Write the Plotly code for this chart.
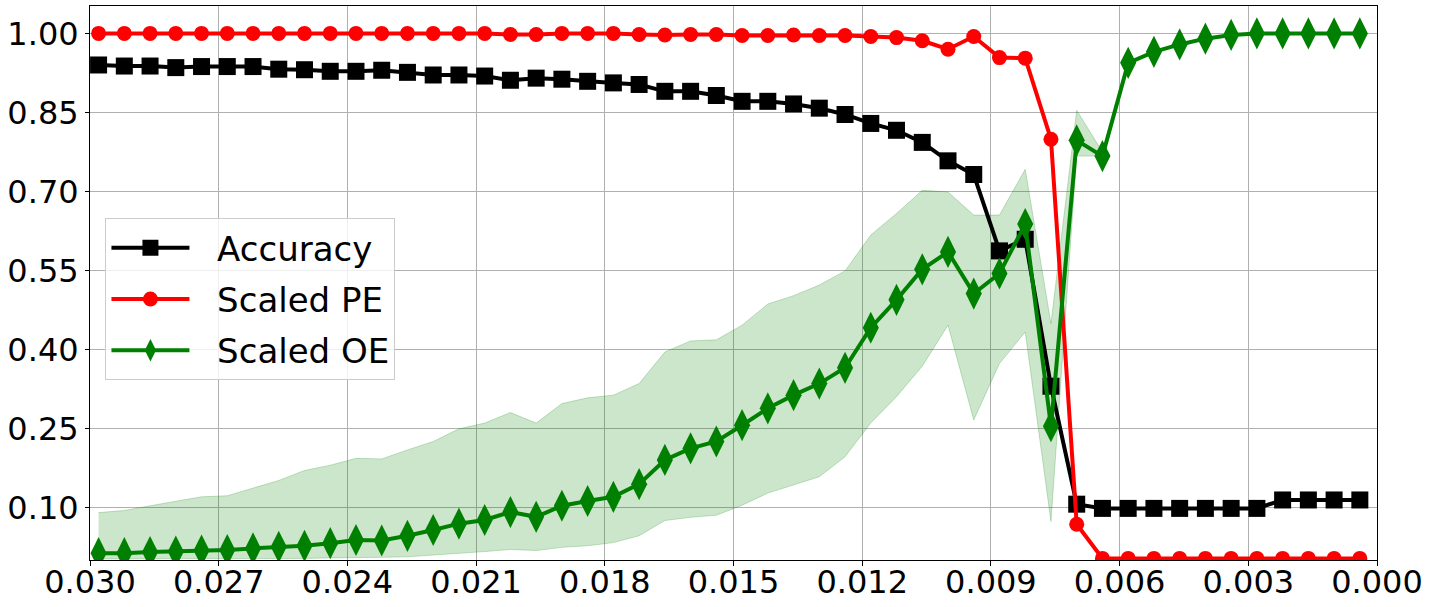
import plotly.graph_objects as go

# thresholds (x axis runs from 0.030 down to 0.000)
thresholds = [0.0298, 0.0292, 0.0286, 0.0280, 0.0274, 0.0268, 0.0262, 0.0256, 0.0250, 0.0244,
              0.0238, 0.0232, 0.0226, 0.0220, 0.0214, 0.0208, 0.0202, 0.0196, 0.0190, 0.0184,
              0.0178, 0.0172, 0.0166, 0.0160, 0.0154, 0.0148, 0.0142, 0.0136, 0.0130, 0.0124,
              0.0118, 0.0112, 0.0106, 0.0100, 0.0094, 0.0088, 0.0082, 0.0076, 0.0070, 0.0064,
              0.0058, 0.0052, 0.0046, 0.0040, 0.0034, 0.0028, 0.0022, 0.0016, 0.0010, 0.0004]

accuracy = [0.940, 0.938, 0.938, 0.935, 0.937, 0.937, 0.937, 0.932, 0.931, 0.928,
            0.928, 0.930, 0.926, 0.921, 0.921, 0.919, 0.911, 0.915, 0.913, 0.909,
            0.906, 0.903, 0.890, 0.890, 0.882, 0.871, 0.871, 0.866, 0.858, 0.846,
            0.829, 0.816, 0.793, 0.758, 0.732, 0.587, 0.609, 0.330, 0.106, 0.098,
            0.098, 0.098, 0.098, 0.098, 0.098, 0.098, 0.114, 0.114, 0.114, 0.114]

scaled_pe = [1.000, 1.000, 1.000, 1.000, 1.000, 1.000, 1.000, 1.000, 1.000, 1.000,
             1.000, 1.000, 1.000, 1.000, 1.000, 1.000, 0.998, 0.998, 1.000, 1.000,
             1.000, 0.998, 0.997, 0.998, 0.998, 0.996, 0.996, 0.997, 0.996, 0.996,
             0.994, 0.992, 0.986, 0.970, 0.994, 0.954, 0.953, 0.799, 0.068, 0.003,
             0.003, 0.003, 0.003, 0.003, 0.003, 0.003, 0.003, 0.003, 0.003, 0.003]

scaled_oe = [0.013, 0.013, 0.015, 0.016, 0.018, 0.019, 0.022, 0.025, 0.027, 0.032,
             0.038, 0.037, 0.046, 0.057, 0.069, 0.076, 0.091, 0.082, 0.103, 0.112,
             0.120, 0.144, 0.190, 0.212, 0.225, 0.256, 0.288, 0.313, 0.335, 0.365,
             0.441, 0.494, 0.552, 0.585, 0.506, 0.544, 0.638, 0.254, 0.797, 0.767,
             0.944, 0.965, 0.979, 0.990, 0.997, 1.000, 1.000, 1.000, 1.000, 1.000]

oe_upper = [0.090, 0.094, 0.103, 0.111, 0.120, 0.122, 0.136, 0.151, 0.170, 0.180,
            0.193, 0.192, 0.209, 0.225, 0.249, 0.260, 0.280, 0.260, 0.297, 0.308,
            0.313, 0.335, 0.395, 0.416, 0.418, 0.446, 0.486, 0.502, 0.522, 0.549,
            0.617, 0.658, 0.702, 0.699, 0.655, 0.655, 0.742, 0.449, 0.854, 0.775,
            0.944, 0.965, 0.979, 0.990, 0.997, 1.000, 1.000, 1.000, 1.000, 1.000]

oe_lower = [0.002, 0.002, 0.002, 0.002, 0.003, 0.003, 0.003, 0.003, 0.003, 0.004,
            0.004, 0.005, 0.006, 0.009, 0.013, 0.016, 0.020, 0.018, 0.024, 0.027,
            0.033, 0.046, 0.075, 0.081, 0.085, 0.104, 0.127, 0.142, 0.158, 0.196,
            0.260, 0.310, 0.368, 0.446, 0.266, 0.373, 0.433, 0.073, 0.767, 0.767,
            0.944, 0.965, 0.979, 0.990, 0.997, 1.000, 1.000, 1.000, 1.000, 1.000]

x_ticks = [0.030, 0.027, 0.024, 0.021, 0.018, 0.015, 0.012, 0.009, 0.006, 0.003, 0.000]
y_ticks = [0.10, 0.25, 0.40, 0.55, 0.70, 0.85, 1.00]

FONT = "DejaVu Sans"
GAP = "\u2002\u2006"  # small space between legend symbol and label

fig = go.Figure()

# shaded band for scaled OE
fig.add_trace(go.Scatter(
    x=thresholds, y=oe_lower, mode='lines',
    line=dict(width=1, color='rgba(0,128,0,0.22)'),
    hoverinfo='skip', showlegend=False
))
fig.add_trace(go.Scatter(
    x=thresholds, y=oe_upper, mode='lines',
    line=dict(width=1, color='rgba(0,128,0,0.22)'),
    fill='tonexty', fillcolor='rgba(0,128,0,0.2)',
    hoverinfo='skip', showlegend=False
))

fig.add_trace(go.Scatter(
    x=thresholds, y=accuracy, mode='lines+markers', name=GAP + 'Accuracy',
    legendgroup='a',
    line=dict(color='black', width=4),
    marker=dict(symbol='square', size=17, color='black')
))
fig.add_trace(go.Scatter(
    x=thresholds, y=scaled_pe, mode='lines+markers', name=GAP + 'Scaled PE',
    legendgroup='b',
    line=dict(color='#ff0000', width=4),
    marker=dict(symbol='circle', size=15, color='#ff0000')
))
fig.add_trace(go.Scatter(
    x=thresholds, y=scaled_oe, mode='lines+markers', name=GAP + 'Scaled OE',
    legendgroup='c',
    line=dict(color='#008000', width=4),
    marker=dict(symbol='diamond-tall', size=23, color='#008000')
))

fig.update_layout(
    width=1432, height=607,
    margin=dict(l=90, r=55, t=6, b=47),
    paper_bgcolor='white', plot_bgcolor='white',
    font=dict(family=FONT, size=32, color='black'),
    legend=dict(
        x=0.012, y=0.617, xanchor='left', yanchor='top',
        font=dict(family=FONT, size=34, color='black'),
        bgcolor='rgba(255,255,255,0.8)', bordercolor='#cccccc', borderwidth=1,
        itemwidth=78, traceorder='grouped', tracegroupgap=4
    ),
    xaxis=dict(
        range=[0.030, 0.000], tickvals=x_ticks, tickformat='.3f',
        showgrid=True, gridcolor='#b0b0b0', gridwidth=1,
        showline=True, linecolor='black', linewidth=1, mirror=True,
        ticks='outside', ticklen=5, tickcolor='black', zeroline=False,
        tickfont=dict(family=FONT, size=32), automargin=False,
        ticklabelstandoff=-11
    ),
    yaxis=dict(
        range=[0.0, 1.052], tickvals=y_ticks, tickformat='.2f',
        showgrid=True, gridcolor='#b0b0b0', gridwidth=1,
        showline=True, linecolor='black', linewidth=1, mirror=True,
        ticks='outside', ticklen=4, tickcolor='black', zeroline=False,
        tickfont=dict(family=FONT, size=32), automargin=False
    ),
)

# page body has a default 8px margin; drop it so the figure fills the window
fig.write_html("out.html", config={'displayModeBar': False},
               post_script="document.body.style.margin = '0';")
